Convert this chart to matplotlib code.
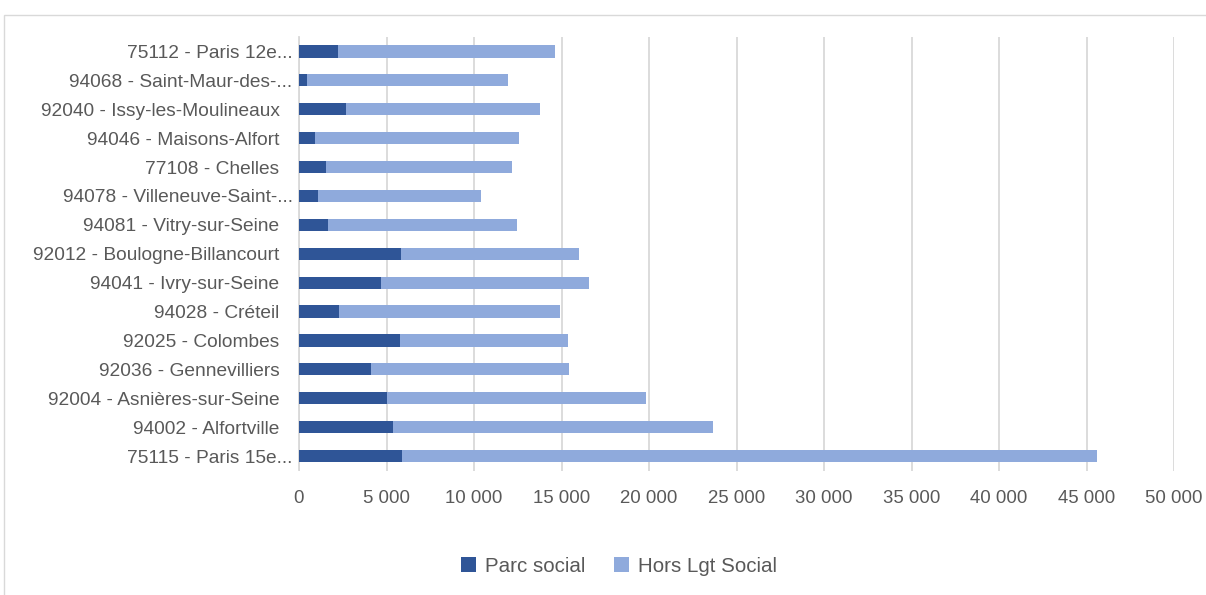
import matplotlib.pyplot as plt
from matplotlib.patches import Rectangle
from matplotlib.ticker import FuncFormatter
from matplotlib.transforms import ScaledTranslation

communes = [
    "75112 - Paris 12e...",
    "94068 - Saint-Maur-des-...",
    "92040 - Issy-les-Moulineaux",
    "94046 - Maisons-Alfort",
    "77108 - Chelles",
    "94078 - Villeneuve-Saint-...",
    "94081 - Vitry-sur-Seine",
    "92012 - Boulogne-Billancourt",
    "94041 - Ivry-sur-Seine",
    "94028 - Créteil",
    "92025 - Colombes",
    "92036 - Gennevilliers",
    "92004 - Asnières-sur-Seine",
    "94002 - Alfortville",
    "75115 - Paris 15e...",
]
parc_social = [2230, 440, 2710, 900, 1530, 1070, 1640, 5815, 4670, 2310, 5775, 4100, 5000, 5360, 5875]
hors_social = [12390, 11510, 11070, 11680, 10615, 9320, 10810, 10160, 11880, 12600, 9575, 11300, 14810, 18300, 39725]

plt.rcParams['font.family'] = ['Liberation Sans', 'DejaVu Sans']
gris = "#595959"

fig = plt.figure(figsize=(12.06, 5.95), dpi=100)
W, H = 1206, 595
ax = fig.add_axes([299 / W, 1 - 470.5 / H, (1174 - 299) / W, (470.5 - 37) / H])

# cadre du graphique
fig.patches.append(Rectangle((4 / W, -0.1), 1.2, 1 - 15 / H + 0.1, transform=fig.transFigure,
                             fill=False, edgecolor="#d9d9d9", linewidth=1))

y = list(range(len(communes)))
ax.barh(y, parc_social, height=0.42, color="#2f5597", label="Parc social", zorder=3)
ax.barh(y, hors_social, left=parc_social, height=0.42, color="#8faadc", label="Hors Lgt Social", zorder=3)

ax.set_ylim(len(communes) - 0.5, -0.5)
ax.set_yticks(y)
ax.set_yticklabels(communes, fontsize=13.8, color=gris)
ax.set_xlim(0, 50000)
ax.set_xticks(range(0, 50001, 5000))
ax.xaxis.set_major_formatter(FuncFormatter(lambda v, p: f"{int(v):,}".replace(",", " ")))
ax.tick_params(axis="x", labelsize=13.4, labelcolor=gris, length=0, pad=14)
ax.tick_params(axis="y", length=0, pad=14)
ax.grid(axis="x", color="#d9d9d9", linewidth=1.3, zorder=0)
for s in ["top", "right", "bottom"]:
    ax.spines[s].set_visible(False)
ax.spines["left"].set_color("#d9d9d9")
ax.spines["left"].set_linewidth(1.3)

# les libellés tronqués débordent un peu vers la droite
for lab in ax.get_yticklabels():
    if lab.get_text().endswith("..."):
        lab.set_transform(lab.get_transform() + ScaledTranslation(13 / 100, 0, fig.dpi_scale_trans))

fig.legend(loc="center", bbox_to_anchor=(619 / W, 1 - 566 / H), ncol=2, frameon=False,
           fontsize=14.8, labelcolor=gris, handlelength=0.75, handleheight=0.75,
           handletextpad=0.45, columnspacing=1.36)

fig.savefig("out.png", dpi=100)
